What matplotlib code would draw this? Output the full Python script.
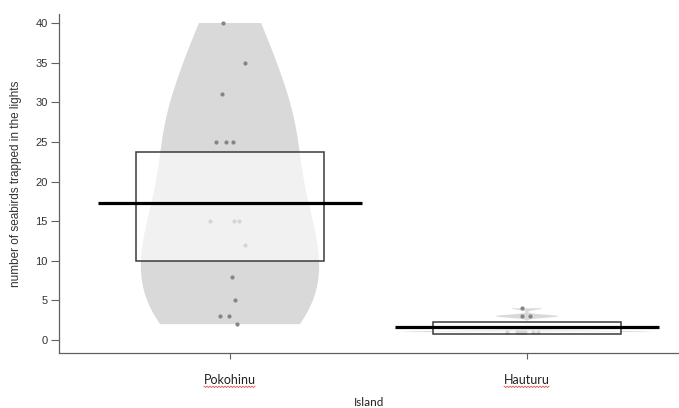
import numpy as np
import matplotlib
matplotlib.use("Agg")
import matplotlib.pyplot as plt
from matplotlib.patches import Rectangle, Polygon

# Seabirds trapped in the lights, per night, on each island
islands = ["Pokohinu", "Hauturu"]
pokohinu = [40, 35, 31, 25, 25, 25, 15, 15, 15, 12, 8, 5, 3, 3, 2]
hauturu = [4, 3, 3, 1, 1, 1, 1, 1, 1, 1, 1]
# inference band (lower, upper) around each mean
inf_low = [10.0, 0.76]
inf_high = [23.7, 2.23]

# horizontal jitter of the raw points (x units)
jitter = [
    [-0.024, 0.050, -0.027, -0.047, -0.013, 0.010, -0.067, 0.013, 0.030,
     0.050, 0.007, 0.017, -0.034, -0.003, 0.024],
    [-0.017, -0.017, 0.010, -0.067, -0.034, -0.027, -0.020, -0.013, -0.007,
     0.020, 0.037],
]

bean_half = [0.30, 0.42]     # max half-width of each bean
bw_adjust = [1.0, 0.45]      # bandwidth multiplier on nrd0
box_half = 0.315
line_half = 0.445

BEAN = "#d9d9d9"
POINT = "#858585"
AXIS = "#606060"


def nrd0(x):
    x = np.asarray(x, float)
    q1, q3 = np.percentile(x, [25, 75])
    s = min(np.std(x, ddof=1), (q3 - q1) / 1.34)
    return 0.9 * s * len(x) ** -0.2


def bean_outline(x, adjust):
    x = np.asarray(x, float)
    bw = nrd0(x) * adjust
    grid = np.linspace(x.min(), x.max(), 400)
    dens = np.exp(-0.5 * ((grid[:, None] - x[None, :]) / bw) ** 2).sum(axis=1)
    return grid, dens / dens.max()


W, H = 679, 408
fig = plt.figure(figsize=(W / 100, H / 100), dpi=100)
ax = fig.add_axes([59 / W, 1 - 353 / H, 620 / W, 339 / H])

groups = [pokohinu, hauturu]
for i, vals in enumerate(groups):
    pos = i + 1
    grid, d = bean_outline(vals, bw_adjust[i])
    hw = d * bean_half[i]
    verts = np.concatenate([np.column_stack([pos - hw, grid]),
                            np.column_stack([pos + hw, grid])[::-1]])
    ax.add_patch(Polygon(verts, closed=True, facecolor=BEAN,
                         edgecolor="none", zorder=1))
    ax.scatter(pos + np.asarray(jitter[i]), vals, s=9, color=POINT,
               linewidths=0, zorder=2)
    ax.add_patch(Rectangle((pos - box_half, inf_low[i]), 2 * box_half,
                           inf_high[i] - inf_low[i],
                           facecolor=(1, 1, 1, 0.66), edgecolor="#3a3a3a",
                           linewidth=1.1, zorder=3))
    m = float(np.mean(vals))
    ax.plot([pos - line_half, pos + line_half], [m, m], color="black",
            linewidth=2.3, solid_capstyle="butt", zorder=4)

ax.set_xlim(1 - 171 / 297, 1 - 171 / 297 + 620 / 297)
ax.set_ylim(-13 / 7.925, 40 + 9 / 7.925)

for side in ("top", "right"):
    ax.spines[side].set_visible(False)
for side in ("left", "bottom"):
    ax.spines[side].set_color(AXIS)
    ax.spines[side].set_linewidth(0.9)

ax.set_yticks(np.arange(0, 41, 5))
ax.tick_params(axis="y", labelsize=8, labelcolor="#333333", color=AXIS,
               length=5.5, width=0.8, pad=2.5)
for t in ax.get_yticklabels():
    t.set_family("Liberation Sans")

ax.set_xticks([1, 2])
ax.set_xticklabels(islands, family="Lato", fontsize=9, color="#222222")
ax.tick_params(axis="x", color=AXIS, length=4.5, width=0.8, pad=10.5)

ax.set_ylabel("number of seabirds trapped in the lights", family="Liberation Sans",
              fontsize=8.5, color="#333333", labelpad=10)
ax.set_xlabel("Island", family="Lato", fontsize=8.5, color="#222222", labelpad=8)

# red wavy underline beneath the island names
fig.canvas.draw()
renderer = fig.canvas.get_renderer()
inv = fig.transFigure.inverted()
for t in ax.get_xticklabels():
    bb = t.get_window_extent(renderer)
    xs = np.arange(bb.x0, bb.x1, 1.5)
    ys = bb.y0 - 1.0 + np.where(np.arange(len(xs)) % 2 == 0, 0.7, -0.7)
    pts = inv.transform(np.column_stack([xs, ys]))
    fig.add_artist(plt.Line2D(pts[:, 0], pts[:, 1], color="#e05050",
                              linewidth=0.6, transform=fig.transFigure))

fig.savefig("out.png", dpi=100)
